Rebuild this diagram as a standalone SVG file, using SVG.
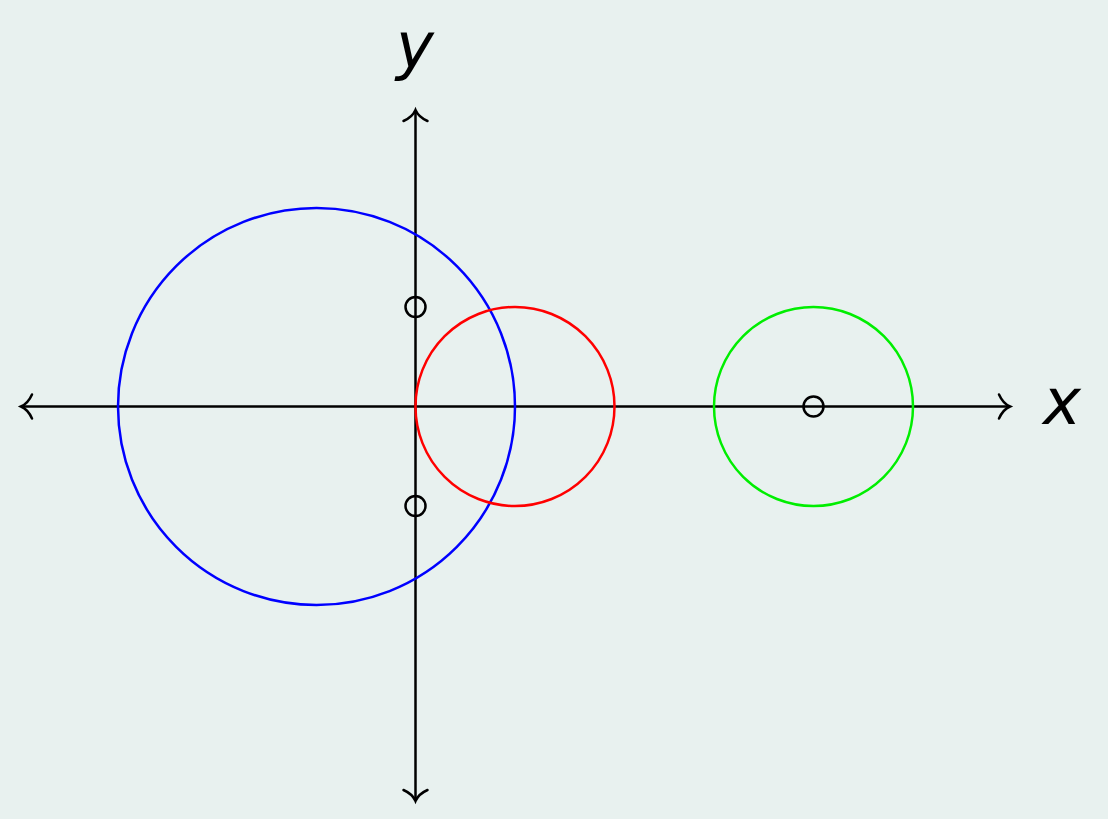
<svg xmlns="http://www.w3.org/2000/svg" width="1108" height="819" viewBox="0 0 1108 819">
<style>
.ax{stroke:#000;stroke-width:2.5;fill:none}
.ah{stroke:#000;stroke-width:2.5;fill:none;stroke-linecap:round}
.pt{stroke:#000;stroke-width:2.5;fill:none}
.lbl{font-family:"DejaVu Sans",sans-serif;font-style:italic;font-size:64px;fill:#000}
</style>
<rect width="1108" height="819" fill="#e8f1ef"/>
<g id="connectors">
<line class="ax" x1="21" y1="406.5" x2="1010" y2="406.5"/>
<line class="ax" x1="415.5" y1="110" x2="415.5" y2="801"/>
<path class="ah" d="M32 394.5 Q28 403.5 21 406.5 Q28 409.5 32 418.5"/>
<path class="ah" d="M999 394.5 Q1003 403.5 1010 406.5 Q1003 409.5 999 418.5"/>
<path class="ah" d="M403.5 121 Q412.5 117 415.5 110 Q418.5 117 427.5 121"/>
<path class="ah" d="M403.5 790 Q412.5 794 415.5 801 Q418.5 794 427.5 790"/>
</g>
<g id="blue-circle"><circle cx="316.5" cy="406.5" r="198.5" fill="none" stroke="#0000ff" stroke-width="2.5"/></g>
<g id="red-circle"><circle cx="515" cy="406.5" r="99.5" fill="none" stroke="#ff0000" stroke-width="2.5"/></g>
<g id="green-circle"><circle cx="813.5" cy="406.5" r="99.5" fill="none" stroke="#00ee00" stroke-width="2.5"/></g>
<g id="point-1"><circle class="pt" cx="415.5" cy="307" r="10"/></g>
<g id="point-2"><circle class="pt" cx="415.5" cy="506" r="10"/></g>
<g id="point-3"><circle class="pt" cx="813.5" cy="406.5" r="10"/></g>
<g id="label-y"><text class="lbl" x="415" y="68" text-anchor="middle">y</text></g>
<g id="label-x"><text class="lbl" x="1062" y="424" text-anchor="middle">x</text></g>
</svg>
